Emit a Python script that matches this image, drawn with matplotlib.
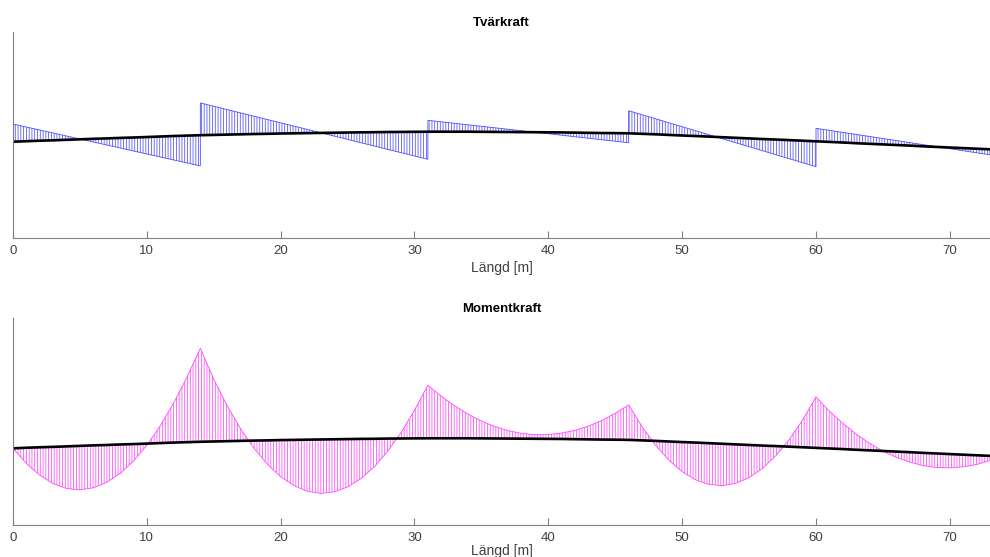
import numpy as np
import matplotlib
matplotlib.use('Agg')
import matplotlib.pyplot as plt

plt.rcParams['font.family'] = ['Liberation Sans', 'DejaVu Sans']
plt.rcParams['hatch.linewidth'] = 0.55

# ---------- data ----------
# bridge profile, one value per metre (x = 0..73)
profile_x = list(range(0, 74))
profile_y = [9.63, 9.68, 9.73, 9.77, 9.82, 9.87, 9.92, 9.96, 10.01, 10.05,
             10.10, 10.15, 10.20, 10.24, 10.28, 10.31, 10.34, 10.37, 10.40, 10.42,
             10.45, 10.47, 10.49, 10.51, 10.53, 10.55, 10.57, 10.58, 10.60, 10.61,
             10.62, 10.63, 10.63, 10.63, 10.63, 10.62, 10.61, 10.60, 10.59, 10.58,
             10.57, 10.56, 10.54, 10.52, 10.50, 10.49, 10.47, 10.42, 10.37, 10.31,
             10.25, 10.20, 10.14, 10.08, 10.02, 9.96, 9.90, 9.85, 9.79, 9.73,
             9.67, 9.61, 9.55, 9.48, 9.42, 9.36, 9.30, 9.24, 9.17, 9.11,
             9.05, 8.99, 8.93, 8.87]

# shear (relative to profile), jumps at supports 14, 31, 46, 60
shear_x = [0, 14, 14, 31, 31, 46, 46, 60, 60, 73]
shear_v = [1.77, -3.07, 3.23, -2.76, 1.14, -0.94, 2.26, -2.54, 1.30, -0.55]

# moment (relative to profile, hogging drawn upwards), one value per metre
moment_x = list(range(0, 74))
moment_v = [0.00, -1.57, -2.79, -3.67, -4.21, -4.40, -4.24, -3.74, -2.90, -1.71,
            -0.17, 1.71, 3.93, 6.50, 9.35, 6.23, 3.56, 1.23, -0.75, -2.38,
            -3.65, -4.58, -5.16, -5.39, -5.26, -4.79, -3.97, -2.80, -1.27, 0.60,
            2.82, 5.30, 4.20, 3.24, 2.41, 1.73, 1.19, 0.79, 0.53, 0.41,
            0.43, 0.59, 0.89, 1.33, 1.91, 2.63, 3.50, 1.38, -0.42, -1.86,
            -2.96, -3.72, -4.12, -4.18, -3.90, -3.26, -2.29, -0.96, 0.71, 2.73,
            5.09, 3.73, 2.58, 1.57, 0.71, -0.02, -0.57, -0.99, -1.27, -1.40,
            -1.38, -1.22, -0.92, -0.47]

x_ticks = [0, 10, 20, 30, 40, 50, 60, 70]

AXIS_GREY = '#808080'
TEXT_GREY = '#404040'


def style_axis(ax, title, ylim, labelpad):
    ax.set_xlim(0, 73)
    ax.set_ylim(*ylim)
    ax.set_xticks(x_ticks)
    ax.set_yticks([])
    for side in ('top', 'right'):
        ax.spines[side].set_visible(False)
    for side in ('left', 'bottom'):
        ax.spines[side].set_color(AXIS_GREY)
        ax.spines[side].set_linewidth(0.8)
    ax.tick_params(axis='x', direction='in', length=5, width=0.8,
                   color=AXIS_GREY, labelcolor=TEXT_GREY, labelsize=9.5, pad=5)
    ax.set_xlabel('Längd [m]', fontsize=10, color=TEXT_GREY, labelpad=labelpad)
    ax.set_title(title, fontsize=9.5, fontweight='bold', pad=4)


prof = np.array(profile_y)
px = np.array(profile_x)

fig = plt.figure(figsize=(9.9, 5.57), dpi=100)

# ---------- Tvärkraft ----------
ax1 = fig.add_axes([0.0131, 0.5727, 0.9869, 0.3698])
sx = np.array(shear_x)
sy = prof[sx] + np.array(shear_v)
poly_x = np.concatenate([sx, px[::-1]])
poly_y = np.concatenate([sy, prof[::-1]])
ax1.fill(poly_x, poly_y, facecolor='none', edgecolor='#4d4dff',
         hatch='||||||', linewidth=0.6)
ax1.plot(px, prof, color='black', lw=1.9)
style_axis(ax1, 'Tvärkraft', (0, 20.6), 3)

# ---------- Momentkraft ----------
ax2 = fig.add_axes([0.0131, 0.0575, 0.9869, 0.3716])
my = prof + np.array(moment_v)
ax2.fill_between(np.array(moment_x), prof, my, facecolor='none',
                 edgecolor='#ff44ff', hatch='||||||', linewidth=0.6)
ax2.plot(px, prof, color='black', lw=1.9)
style_axis(ax2, 'Momentkraft', (1.96, 22.66), 0)

fig.savefig('out.png', dpi=100, facecolor='white')
